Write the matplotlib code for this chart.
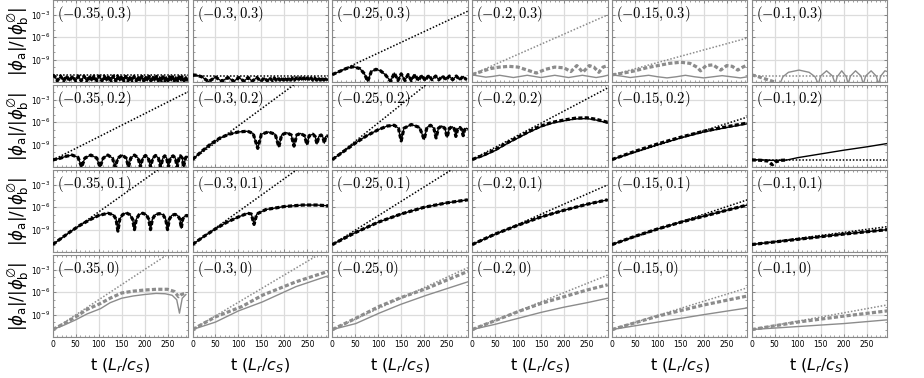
import numpy as np
import matplotlib
matplotlib.use("Agg")
import matplotlib.pyplot as plt
from matplotlib.ticker import FixedLocator, NullFormatter

# ---------------- data (log10 of |phi_a|/|phi_b|) ----------------
a_labels = ["-0.35", "-0.3", "-0.25", "-0.2", "-0.15", "-0.1"]
b_labels = ["0.3", "0.2", "0.1", "0"]
# gray panels (1) vs black panels (0)
gray_flags = [[0, 0, 0, 1, 1, 1],
              [0, 0, 0, 0, 0, 0],
              [0, 0, 0, 0, 0, 0],
              [1, 1, 1, 1, 1, 1]]
# dotted reference line: value at t=0 and at t=295
dotted_start = [[-11.1, -11.2, -11.0, -11.0, -11.07, -11.2],
                [-11.07, -11.0, -11.0, -11.0, -11.0, -11.07],
                [-11.0, -11.0, -11.0, -11.0, -11.0, -11.0],
                [-11.07, -11.0, -11.0, -11.0, -11.0, -11.0]]
dotted_end = [[-11.1, -11.2, -2.5, -3.0, -6.1, -11.2],
              [-1.9, 2.4, 3.5, -1.4, -5.3, -11.07],
              [1.9, 2.05, 0.4, -3.0, -5.0, -8.6],
              [0.9, -0.2, -2.7, -3.7, -5.4, -7.7]]
t_end = 295

# ---- row b = 0.3 ----
osc_035_03 = [(0, -11.05), (5, -11.3), (10, -11.85), (17, -11.2), (24, -11.85), (30, -11.2), (37, -11.85),
              (43, -11.2), (50, -11.85), (56, -11.2), (62, -11.85), (68, -11.2), (74, -11.85), (80, -11.2),
              (85, -11.85), (90, -11.2), (96, -11.85), (101, -11.2), (107, -11.85), (112, -11.2), (117, -11.85),
              (122, -11.2), (127, -11.85), (132, -11.2), (137, -11.85), (141, -11.2), (146, -11.85), (150, -11.2),
              (155, -11.85), (159, -11.25), (164, -11.85), (168, -11.25), (173, -11.85), (177, -11.25),
              (182, -11.85), (186, -11.25), (190, -11.85), (194, -11.25), (198, -11.85), (202, -11.25),
              (206, -11.85), (210, -11.25), (214, -11.85), (218, -11.25), (222, -11.85), (226, -11.25),
              (230, -11.85), (233, -11.3), (237, -11.85), (240, -11.3), (244, -11.85), (247, -11.3),
              (251, -11.85), (254, -11.3), (258, -11.85), (261, -11.3), (265, -11.85), (268, -11.3),
              (272, -11.85), (275, -11.3), (279, -11.85), (282, -11.3), (286, -11.85), (289, -11.3), (293, -11.85)]
osc_03_03 = [(0, -11.05), (10, -11.1), (20, -11.3), (35, -11.95), (50, -11.35), (64, -11.9), (77, -11.4),
             (90, -11.9), (101, -11.4), (112, -11.9), (121, -11.4), (130, -11.9), (140, -11.4), (149, -11.9),
             (156, -11.45), (163, -11.85), (168, -11.45), (174, -11.8), (178, -11.45), (182, -11.75),
             (186, -11.45), (190, -11.75), (194, -11.45), (198, -11.75), (202, -11.45), (206, -11.75),
             (210, -11.45), (214, -11.75), (218, -11.45), (222, -11.75), (226, -11.45), (230, -11.75),
             (234, -11.45), (238, -11.75), (242, -11.45), (246, -11.75), (250, -11.45), (254, -11.75),
             (258, -11.45), (262, -11.75), (266, -11.45), (270, -11.75), (274, -11.45), (278, -11.75),
             (282, -11.45), (286, -11.75), (290, -11.45), (294, -11.75)]
osc_025_03 = [(0, -11.0), (15, -10.6), (30, -10.2), (45, -9.95), (60, -10.2), (70, -10.9), (77, -11.9),
              (85, -10.6), (95, -10.3), (105, -10.5), (115, -11.0), (127, -11.9), (135, -10.8), (143, -11.8),
              (150, -10.9), (158, -11.8), (165, -11.0), (172, -11.8), (180, -11.0), (187, -11.8), (195, -11.1),
              (202, -11.8), (210, -11.1), (217, -11.7), (225, -11.2), (232, -11.7), (240, -11.2), (247, -11.7),
              (255, -11.2), (262, -11.7), (270, -11.2), (277, -11.7), (285, -11.25), (292, -11.7)]
dash_02_03 = [(0, -11.0), (20, -10.6), (40, -10.2), (60, -10.0), (80, -9.9), (100, -10.0), (120, -10.4),
              (140, -10.8), (160, -10.3), (180, -10.0), (200, -10.1), (215, -10.6), (228, -9.8), (241, -10.7),
              (255, -9.8), (265, -10.0), (276, -10.7), (285, -10.0), (295, -9.8)]
solid_02_03 = [(0, -11.05), (15, -11.2), (30, -11.35), (45, -11.25), (60, -11.1), (75, -11.25), (90, -11.4),
               (105, -11.25), (120, -11.1), (135, -11.25), (150, -11.4), (165, -11.25), (180, -11.1),
               (195, -11.25), (210, -11.4), (225, -11.25), (240, -11.1), (255, -11.25), (270, -11.4),
               (285, -11.25), (295, -11.1)]
dash_015_03 = [(0, -11.05), (25, -10.8), (50, -10.5), (75, -10.1), (100, -9.8), (125, -9.5), (150, -9.35),
               (170, -9.5), (185, -10.0), (193, -10.5), (205, -9.8), (220, -9.7), (237, -10.4), (250, -9.8),
               (262, -9.9), (274, -10.4), (285, -10.0), (295, -9.7)]
solid_015_03 = [(0, -11.05), (20, -11.2), (40, -11.4), (60, -11.25), (80, -11.1), (100, -11.3), (120, -11.45),
                (140, -11.3), (160, -11.1), (180, -11.3), (200, -11.45), (220, -11.3), (240, -11.15),
                (260, -11.3), (280, -11.45), (295, -11.3)]
dash_01_03 = [(0, -11.05), (10, -11.2), (20, -11.4), (30, -11.6), (40, -11.8), (50, -12.0)]
solid_01_03 = [(61, -12.3), (68, -11.3), (80, -10.7), (103, -10.4), (125, -10.7), (138, -11.3), (145, -12.3),
               (150, -11.2), (163, -10.5), (176, -11.2), (182, -12.3), (186, -11.3), (196, -10.5), (206, -11.3),
               (210, -12.3), (215, -11.2), (226, -10.5), (238, -11.2), (243, -12.3), (248, -11.2), (260, -10.5),
               (271, -11.2), (276, -12.3), (281, -11.2), (290, -10.5), (295, -10.6)]

# ---- row b = 0.2 ----
osc_035_02 = [(0, -11.05), (15, -10.85), (30, -10.55), (42, -10.4), (55, -10.7), (63, -12.0), (70, -10.8),
              (83, -10.4), (96, -10.8), (103, -12.0), (110, -10.8), (120, -10.4), (130, -10.8), (136, -12.0),
              (142, -10.8), (151, -10.4), (160, -10.8), (165, -12.0), (170, -10.8), (178, -10.4), (186, -10.8),
              (191, -12.0), (196, -10.8), (202, -10.45), (208, -10.8), (213, -12.0), (218, -10.8), (224, -10.45),
              (230, -10.8), (235, -12.0), (240, -10.8), (244, -10.5), (248, -10.8), (252, -12.0), (256, -10.8),
              (262, -10.5), (267, -10.8), (271, -12.0), (275, -10.8), (278, -10.5), (282, -10.8), (285, -12.0),
              (289, -10.8), (292, -10.55), (295, -10.7)]
osc_03_02 = [(0, -11.0), (20, -9.9), (40, -8.9), (60, -8.1), (80, -7.6), (100, -7.3), (120, -7.2), (132, -7.5),
             (142, -9.5), (150, -7.6), (165, -7.3), (180, -7.6), (188, -9.3), (194, -7.7), (205, -7.4),
             (215, -7.7), (221, -9.2), (227, -7.7), (235, -7.5), (244, -7.8), (249, -9.0), (254, -7.8),
             (262, -7.6), (267, -7.9), (271, -8.9), (275, -7.9), (280, -7.7), (284, -8.0), (287, -8.8),
             (290, -7.9), (295, -7.8)]
osc_025_02 = [(0, -11.0), (25, -9.9), (50, -8.8), (75, -7.8), (100, -7.0), (120, -6.5), (135, -6.4), (144, -6.8),
              (150, -8.5), (156, -6.8), (172, -6.3), (190, -6.7), (200, -8.3), (206, -6.7), (214, -6.4),
              (221, -6.8), (226, -8.1), (231, -6.8), (238, -6.5), (245, -6.8), (250, -8.0), (255, -6.8),
              (261, -6.6), (266, -6.9), (269, -7.9), (273, -6.9), (278, -6.7), (282, -7.0), (285, -7.8),
              (288, -7.0), (292, -6.8), (295, -6.9)]
dash_02_02 = [(0, -11.0), (25, -10.4), (50, -9.7), (75, -8.8), (100, -8.0), (125, -7.2), (150, -6.5),
              (175, -6.0), (200, -5.7), (225, -5.45), (250, -5.4), (270, -5.6), (295, -6.0)]
solid_02_02 = [(0, -11.0), (25, -10.5), (50, -9.8), (75, -8.9), (100, -8.1), (125, -7.3), (150, -6.6),
               (175, -6.1), (200, -5.8), (225, -5.55), (250, -5.5), (270, -5.7), (295, -6.1)]
dash_015_02 = [(0, -11.0), (50, -9.9), (100, -8.9), (150, -8.0), (200, -7.2), (250, -6.6), (295, -6.1)]
solid_015_02 = [(0, -11.0), (50, -10.0), (100, -9.0), (150, -8.1), (200, -7.3), (250, -6.7), (295, -6.2)]
dash_01_02 = [(0, -11.05), (20, -11.1), (35, -11.2), (45, -11.7), (52, -11.3), (65, -11.1), (76, -11.07)]
solid_01_02 = [(0, -11.0), (20, -11.05), (40, -11.1), (60, -11.12), (76, -11.07), (100, -10.75), (130, -10.45),
               (160, -10.15), (200, -9.75), (250, -9.3), (295, -8.85)]

# ---- row b = 0.1 ----
osc_035_01 = [(0, -11.0), (20, -10.1), (40, -9.2), (60, -8.4), (80, -7.7), (100, -7.1), (120, -6.8), (132, -7.0),
              (138, -7.6), (142, -9.2), (146, -7.6), (152, -7.0), (160, -6.75), (168, -7.0), (174, -7.6),
              (178, -9.0), (182, -7.6), (188, -7.0), (196, -6.8), (204, -7.0), (209, -7.6), (213, -9.0),
              (217, -7.6), (223, -7.0), (232, -6.85), (240, -7.0), (246, -7.6), (250, -9.0), (254, -7.6),
              (259, -7.1), (266, -6.95), (272, -7.1), (277, -7.6), (280, -8.8), (283, -7.6), (287, -7.2),
              (292, -7.1), (295, -7.2)]
osc_03_01 = [(0, -11.0), (25, -9.9), (50, -8.9), (75, -8.0), (100, -7.3), (120, -6.8), (128, -6.9), (134, -8.3),
             (140, -6.9), (160, -6.3), (200, -5.9), (240, -5.7), (270, -5.7), (295, -5.8)]
curve_025_01 = [(0, -11.0), (50, -9.4), (100, -8.0), (150, -6.9), (200, -6.0), (250, -5.4), (295, -5.0)]
curve_02_01 = [(0, -11.0), (50, -9.6), (100, -8.4), (150, -7.3), (200, -6.4), (250, -5.6), (295, -5.0)]
curve_015_01 = [(0, -11.0), (50, -9.9), (100, -8.9), (150, -8.0), (200, -7.2), (250, -6.4), (295, -5.7)]
curve_01_01 = [(0, -11.0), (100, -10.3), (200, -9.6), (295, -9.0)]

# ---- row b = 0 ----
dash_035_0 = [(0, -11.0), (25, -10.2), (50, -9.3), (75, -8.3), (104, -7.5), (125, -6.8), (150, -6.1),
              (175, -5.85), (200, -5.7), (225, -5.6), (250, -5.6), (265, -5.9), (274, -6.6), (280, -6.3),
              (290, -6.1)]
solid_035_0 = [(0, -11.0), (25, -10.4), (50, -9.7), (75, -8.9), (104, -8.2), (125, -7.4), (150, -6.8),
               (175, -6.5), (200, -6.3), (225, -6.15), (245, -6.2), (260, -6.4), (270, -7.0), (276, -8.8),
               (282, -6.8), (290, -6.3)]
dash_03_0 = [(0, -11.0), (50, -9.3), (108, -7.9), (152, -6.4), (225, -4.6), (295, -3.2)]
solid_03_0 = [(0, -11.0), (50, -10.0), (100, -8.5), (152, -7.3), (225, -5.25), (295, -3.8)]
dash_025_0 = [(0, -11.0), (51, -9.5), (102, -7.9), (150, -6.7), (205, -5.5), (295, -3.2)]
solid_025_0 = [(0, -11.0), (51, -10.2), (102, -8.8), (150, -7.6), (205, -6.4), (295, -4.6)]
dash_02_0 = [(0, -11.0), (50, -9.8), (100, -8.6), (150, -7.5), (200, -6.6), (250, -5.7), (295, -5.0)]
solid_02_0 = [(0, -11.0), (50, -10.3), (100, -9.5), (150, -8.7), (200, -8.0), (250, -7.4), (295, -6.8)]
dash_015_0 = [(0, -11.0), (100, -9.2), (200, -7.7), (295, -6.5)]
solid_015_0 = [(0, -11.0), (100, -10.0), (200, -9.0), (295, -8.1)]
dash_01_0 = [(0, -11.0), (100, -10.0), (200, -9.2), (295, -8.5)]
solid_01_0 = [(0, -11.0), (100, -10.6), (200, -10.2), (295, -9.7)]

dashed_curves = [[osc_035_03, osc_03_03, osc_025_03, dash_02_03, dash_015_03, dash_01_03],
                 [osc_035_02, osc_03_02, osc_025_02, dash_02_02, dash_015_02, dash_01_02],
                 [osc_035_01, osc_03_01, curve_025_01, curve_02_01, curve_015_01, curve_01_01],
                 [dash_035_0, dash_03_0, dash_025_0, dash_02_0, dash_015_0, dash_01_0]]
solid_curves = [[osc_035_03, osc_03_03, osc_025_03, solid_02_03, solid_015_03, solid_01_03],
                [osc_035_02, osc_03_02, osc_025_02, solid_02_02, solid_015_02, solid_01_02],
                [osc_035_01, osc_03_01, curve_025_01, curve_02_01, curve_015_01, curve_01_01],
                [solid_035_0, solid_03_0, solid_025_0, solid_02_0, solid_015_0, solid_01_0]]

x_ticks = [0, 50, 100, 150, 200, 250]
y_ticks = [1e-12, 1e-9, 1e-6, 1e-3]
y_ticklabels = ["", r"$10^{-9}$", r"$10^{-6}$", r"$10^{-3}$"]

# ---------------- figure ----------------
plt.rcParams["mathtext.fontset"] = "dejavusans"
W, H = 924, 378
fig = plt.figure(figsize=(W / 100, H / 100), dpi=100)

left0, colstep, aw = 52.7, 139.8, 135.5
rowstep, ah = 85.0, 82.0
GRAY = "#8c8c8c"

for r in range(4):
    for c in range(6):
        x0 = left0 + c * colstep
        y0 = r * rowstep
        ax = fig.add_axes([x0 / W, 1 - (y0 + ah) / H, aw / W, ah / H])
        ax.set_yscale("log")
        ax.set_xlim(0, 295)
        ax.set_ylim(1e-12, 1e-1)
        col = GRAY if gray_flags[r][c] else "black"

        ax.plot([0, t_end], [10 ** dotted_start[r][c], 10 ** dotted_end[r][c]], color=col,
                lw=1.1, linestyle=(0, (1.0, 1.2)), zorder=3)
        d = dashed_curves[r][c]
        ax.plot([p[0] for p in d], [10 ** p[1] for p in d], color=col, lw=2.3,
                linestyle=(0, (1.3, 0.7)), zorder=4)
        s = solid_curves[r][c]
        ax.plot([p[0] for p in s], [10 ** p[1] for p in s], color=col, lw=1.0, zorder=5)

        ax.xaxis.set_major_locator(FixedLocator(x_ticks))
        ax.xaxis.set_minor_locator(FixedLocator(list(range(0, 300, 10))))
        ax.yaxis.set_major_locator(FixedLocator(y_ticks))
        ax.yaxis.set_minor_locator(FixedLocator([10.0 ** k for k in range(-12, 0)]))
        ax.yaxis.set_minor_formatter(NullFormatter())
        ax.grid(True, which="major", color="#dcdcdc", lw=0.9, zorder=0)
        ax.tick_params(which="both", direction="in", top=True, right=True, color="#777777",
                       labelsize=5.5, pad=2)
        ax.tick_params(which="major", length=2.5, width=0.6)
        ax.tick_params(which="minor", length=1.5, width=0.5)
        for sp in ax.spines.values():
            sp.set_color("#8a8a8a")
            sp.set_linewidth(0.8)
        if c == 0:
            ax.set_yticklabels(y_ticklabels)
        else:
            ax.set_yticklabels([])
        if r == 3:
            ax.set_xticklabels([str(v) for v in x_ticks])
        else:
            ax.set_xticklabels([])
        label = "$(" + a_labels[c] + ", " + b_labels[r] + ")$"
        ax.text(0.03, 0.955, label, transform=ax.transAxes,
                ha="left", va="top", fontsize=10.5, math_fontfamily="cm", zorder=6)

        if r == 3:
            fig.text((x0 + aw / 2) / W, 1 - 366 / H, r"t ($L_r/c_S$)", ha="center", va="center",
                     fontsize=11.5)
    fig.text(18 / W, 1 - (r * rowstep + ah / 2) / H, r"$|\phi_{\rm a}|/|\phi_{\rm b}^{\emptyset}|$",
             rotation=90, ha="center", va="center", fontsize=12)

fig.savefig("out.png", dpi=100)
